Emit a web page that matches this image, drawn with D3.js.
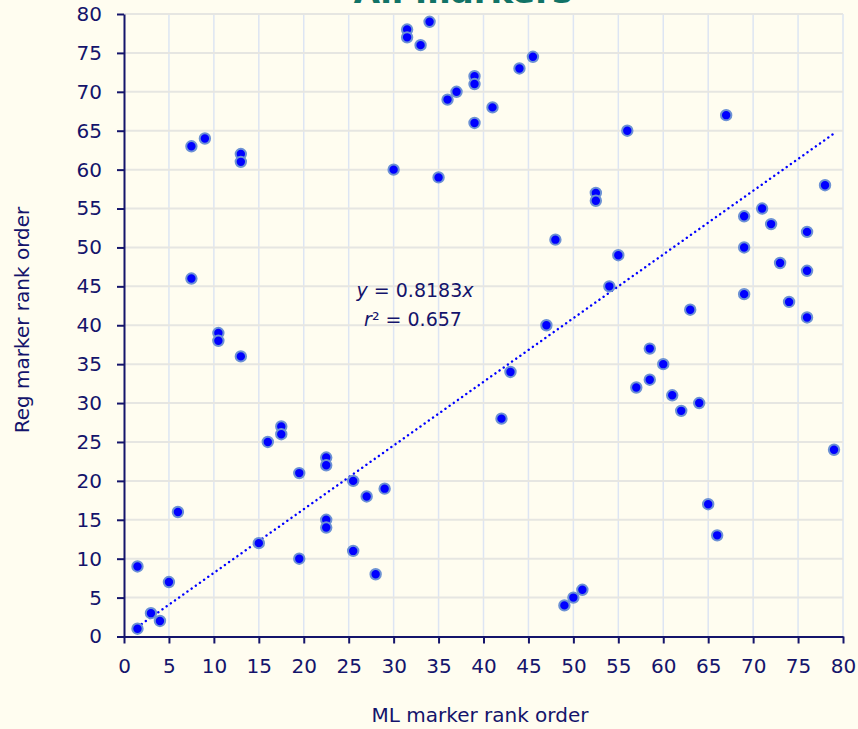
<!DOCTYPE html>
<html>
<head>
<meta charset="utf-8">
<script src="https://cdn.jsdelivr.net/npm/d3@7"></script>
<style>
  html, body { margin: 0; padding: 0; background: #fffdf0; }
  svg { display: block; }
</style>
</head>
<body>
<div id="chart"></div>
<script>
// rank order of each marker: ML (x) vs Reg (y)
let mlRank = [1.5, 1.5, 3, 4, 5, 6, 7.5, 7.5, 9, 10.5, 10.5, 13, 13, 13, 15, 16, 17.5, 17.5, 19.5, 19.5,
    22.5, 22.5, 22.5, 22.5, 25.5, 25.5, 27, 28, 29, 30, 31.5, 31.5, 33, 34, 35, 36, 37, 39, 39, 39,
    41, 42, 43, 44, 45.5, 47, 48, 49, 50, 51, 52.5, 52.5, 54, 55, 56, 57, 58.5, 58.5, 60, 61,
    62, 63, 64, 65, 66, 67, 69, 69, 69, 71, 72, 73, 74, 76, 76, 76, 78, 79];
let regRank = [9, 1, 3, 2, 7, 16, 63, 46, 64, 39, 38, 62, 61, 36, 12, 25, 27, 26, 21, 10,
    23, 22, 15, 14, 20, 11, 18, 8, 19, 60, 78, 77, 76, 79, 59, 69, 70, 72, 71, 66,
    68, 28, 34, 73, 74.5, 40, 51, 4, 5, 6, 57, 56, 45, 49, 65, 32, 37, 33, 35, 31,
    29, 42, 30, 17, 13, 67, 54, 50, 44, 55, 53, 48, 43, 52, 47, 41, 58, 24];
let tickValues = [0, 5, 10, 15, 20, 25, 30, 35, 40, 45, 50, 55, 60, 65, 70, 75, 80];

// trendline through origin (from the chart label)
let slope = 0.8183;
let rSquared = '0.657';

let title = 'All markers';
let xTitle = 'ML marker rank order';
let yTitle = 'Reg marker rank order';

let width = 858;
let height = 729;
let margin = { top: 14, right: 15, bottom: 92.5, left: 124 };
let navy = '#14146b';
let font = 'DejaVu Sans, Verdana, sans-serif';

let points = mlRank.map((d, i) => ({ x: d, y: regRank[i] }));

let svg = d3.select('#chart').append('svg')
    .attr('width', width)
    .attr('height', height)
    .style('background', '#fffdf0');

let x = d3.scaleLinear().domain([0, 80]).range([margin.left, width - margin.right]);
let y = d3.scaleLinear().domain([0, 80]).range([height - margin.bottom, margin.top]);

// grid
svg.append('g')
    .selectAll('line')
    .data(tickValues.slice(1))
    .join('line')
    .attr('x1', d => x(d)).attr('x2', d => x(d))
    .attr('y1', y(0)).attr('y2', y(80))
    .attr('stroke', '#dde5f3')
    .attr('stroke-width', 1.5);

svg.append('g')
    .selectAll('line')
    .data(tickValues.slice(1))
    .join('line')
    .attr('x1', x(0)).attr('x2', x(80))
    .attr('y1', d => y(d)).attr('y2', d => y(d))
    .attr('stroke', '#e6e6e2')
    .attr('stroke-width', 2);

// title, mostly cut off at the top like the original
svg.append('text')
    .attr('x', 463)
    .attr('y', 3)
    .attr('text-anchor', 'middle')
    .style('font-family', font)
    .style('font-weight', 'bold')
    .style('font-size', '34px')
    .style('fill', '#127366')
    .text(title);

// axes
let xAxis = svg.append('g')
    .attr('transform', 'translate(0,' + y(0) + ')')
    .call(d3.axisBottom(x).tickValues(tickValues).tickSize(7).tickPadding(15).tickSizeOuter(0));

let yAxis = svg.append('g')
    .attr('transform', 'translate(' + x(0) + ',0)')
    .call(d3.axisLeft(y).tickValues(tickValues).tickSize(7).tickPadding(15).tickSizeOuter(0));

[xAxis, yAxis].forEach(a => {
    a.select('.domain').attr('stroke', navy).attr('stroke-width', 2);
    a.selectAll('.tick line').attr('stroke', navy).attr('stroke-width', 2);
    a.selectAll('.tick text')
        .style('font-family', font)
        .style('font-size', '20px')
        .style('fill', navy);
});

// trendline
let xMin = d3.min(mlRank);
let xMax = d3.max(mlRank);
svg.append('line')
    .attr('x1', x(xMin)).attr('y1', y(slope * xMin))
    .attr('x2', x(xMax)).attr('y2', y(slope * xMax))
    .attr('stroke', '#0000ff')
    .attr('stroke-width', 2.4)
    .attr('stroke-linecap', 'round')
    .attr('stroke-dasharray', '0.1,5');

// points
svg.append('g')
    .selectAll('circle')
    .data(points)
    .join('circle')
    .attr('cx', d => x(d.x))
    .attr('cy', d => y(d.y))
    .attr('r', 5.2)
    .attr('fill', '#0000ff')
    .attr('stroke', '#6d92d4')
    .attr('stroke-width', 2);

// equation label
let eq = svg.append('text')
    .attr('x', 415)
    .attr('y', 297)
    .attr('text-anchor', 'middle')
    .style('font-family', font)
    .style('font-size', '19px')
    .style('fill', navy);
eq.append('tspan').style('font-style', 'italic').text('y');
eq.append('tspan').text(' = ' + slope);
eq.append('tspan').style('font-style', 'italic').text('x');

let r2 = svg.append('text')
    .attr('x', 413)
    .attr('y', 326)
    .attr('text-anchor', 'middle')
    .style('font-family', font)
    .style('font-size', '19px')
    .style('fill', navy);
r2.append('tspan').style('font-style', 'italic').text('r');
r2.append('tspan').text('\u00b2 = ' + rSquared);

// axis titles
svg.append('text')
    .attr('x', 480)
    .attr('y', 722)
    .attr('text-anchor', 'middle')
    .style('font-family', font)
    .style('font-size', '20px')
    .style('fill', navy)
    .text(xTitle);

svg.append('text')
    .attr('transform', 'translate(29,320) rotate(-90)')
    .attr('text-anchor', 'middle')
    .style('font-family', font)
    .style('font-size', '20px')
    .style('fill', navy)
    .text(yTitle);
</script>
</body>
</html>
